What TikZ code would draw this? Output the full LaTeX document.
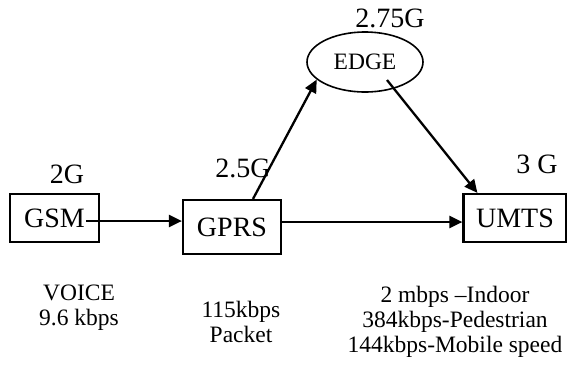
\documentclass[tikz,border=0pt]{standalone}
\usepackage{fontspec}
\setmainfont{Liberation Serif}
\usetikzlibrary{shapes.geometric,arrows.meta}
\begin{document}
\begin{tikzpicture}[x=1pt,y=-1pt,
  big/.style={font=\fontsize{28}{32}\selectfont},
  small/.style={font=\fontsize{23.5}{25}\selectfont},
  gbox/.style={draw,line width=2.2pt,inner sep=0pt,big},
  lbl/.style={inner sep=0pt,big},
  note/.style={inner sep=0pt,align=center,small},
  arr/.style={line width=2.3pt,-{Triangle[length=13pt,width=12pt]}}]
\useasboundingbox (0,0) rectangle (567,365);
\node[gbox,minimum width=89pt,minimum height=48pt] (gsm) at (54.5,218) {GSM};
\node[gbox,minimum width=98pt,minimum height=54pt] (gprs) at (232,227) {GPRS};
\node[gbox,minimum width=103pt,minimum height=48pt] (umts) at (515,218) {UMTS};
\node[draw,ellipse,line width=1.6pt,minimum width=116pt,minimum height=60pt,inner sep=0pt,small] (edge) at (365,62) {EDGE};
\node[lbl] (l2g) at (67,174) {2G};
\node[lbl] (l25g) at (243,168) {2.5G};
\node[lbl] (l275g) at (390,18) {2.75G};
\node[lbl] (l3g) at (537,164) {3 G};
\node[note] (n1) at (79,308) {VOICE\\9.6 kbps};
\node[note] (n2) at (241,322) {115kbps\\Packet};
\node[note] (n3) at (455,321.5) {2 mbps –Indoor\\384kbps-Pedestrian\\144kbps-Mobile speed};
\coordinate (gsmout) at (86,221);
\draw[arr] (gsmout) -- (gsmout -| gprs.west);
\draw[arr] ([yshift=5pt]gprs.east) -- ([yshift=-4pt]umts.west);
\draw[arr] ([xshift=21pt]gprs.north) -- (edge.200);
\draw[arr] ([xshift=22pt,yshift=-18pt]edge.center) -- ([xshift=15pt]umts.north west);
\end{tikzpicture}
\end{document}
